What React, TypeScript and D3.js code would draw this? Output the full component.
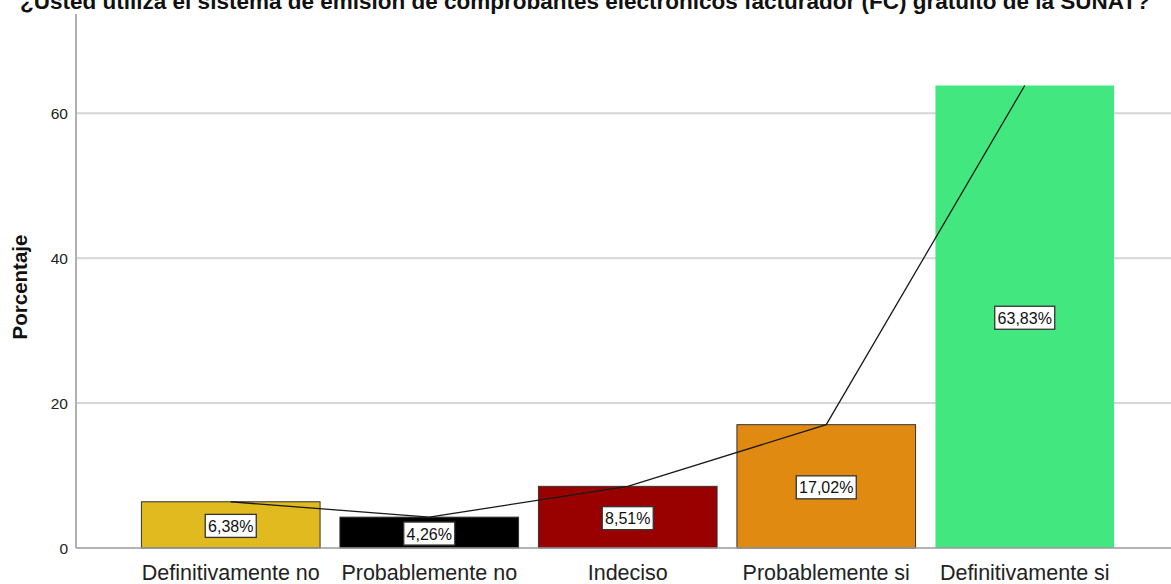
import React from "react";
import * as d3 from "d3";

// Survey responses and their percentages
const categories = [
  "Definitivamente no",
  "Probablemente no",
  "Indeciso",
  "Probablemente si",
  "Definitivamente si",
];
const percentages = [6.38, 4.26, 8.51, 17.02, 63.83];
const barColors = ["#e0ba1e", "#000000", "#990000", "#e08a12", "#42e87f"];
const yTicks = [0, 20, 40, 60];
const yMax = 73.7;

const title =
  "¿Usted utiliza el sistema de emisión de comprobantes electrónicos facturador (FC) gratuito de la SUNAT?";

const W = 1171;
const H = 584;
const plot = { left: 76, right: 1171, top: 14, bottom: 548 };
const FONT = "Liberation Sans, Arial, sans-serif";

const fmt = (v: number) => v.toFixed(2).replace(".", ",") + "%";

export default function App() {
  const x = d3
    .scaleBand<string>()
    .domain(categories)
    .range([131.5, 1124])
    .paddingInner(0.1)
    .paddingOuter(0.05);
  const y = d3.scaleLinear().domain([0, yMax]).range([plot.bottom, plot.top]);

  const linePts: [number, number][] = categories.map((c, i) => [
    (x(c) as number) + x.bandwidth() / 2,
    y(percentages[i]),
  ]);
  const line = d3.line()(linePts) as string;

  return (
    <div style={{ position: "fixed", left: 0, top: 0 }}>
      <svg width={W} height={H} style={{ display: "block", background: "#fff" }}>
        {/* title, running past the top edge */}
        <text
          x={585}
          y={9}
          textAnchor="middle"
          fontFamily={FONT}
          fontWeight="bold"
          fontSize={22.5}
          fill="#111"
        >
          {title}
        </text>

        {/* grid lines */}
        {yTicks
          .filter((t) => t > 0)
          .map((t) => (
            <line
              key={t}
              x1={plot.left}
              x2={plot.right}
              y1={y(t)}
              y2={y(t)}
              stroke="#d6d6d6"
              strokeWidth={2}
            />
          ))}

        {/* bars */}
        {categories.map((c, i) => (
          <rect
            key={c}
            x={x(c)}
            y={y(percentages[i])}
            width={x.bandwidth()}
            height={plot.bottom - y(percentages[i])}
            fill={barColors[i]}
            stroke={i < 4 ? "#333" : "none"}
            strokeWidth={1}
          />
        ))}

        {/* axes */}
        <line
          x1={plot.left}
          x2={plot.left}
          y1={plot.top}
          y2={plot.bottom}
          stroke="#b0b0b0"
          strokeWidth={2}
        />
        <line
          x1={plot.left}
          x2={plot.right}
          y1={plot.bottom}
          y2={plot.bottom}
          stroke="#9a9a9a"
          strokeWidth={1.5}
        />

        {/* line through bar tops */}
        <path d={line} fill="none" stroke="#1a1a1a" strokeWidth={1.3} />

        {/* value labels */}
        {categories.map((c, i) => {
          const cx = (x(c) as number) + x.bandwidth() / 2;
          const cy = (y(percentages[i]) + plot.bottom) / 2 + 1;
          const label = fmt(percentages[i]);
          const bw = label.length * 9 + 6;
          return (
            <g key={c}>
              <rect
                x={cx - bw / 2}
                y={cy - 11.5}
                width={bw}
                height={23}
                fill="#fff"
                stroke="#333"
                strokeWidth={1.3}
              />
              <text
                x={cx}
                y={cy + 6}
                textAnchor="middle"
                fontFamily={FONT}
                fontSize={16}
                fill="#111"
              >
                {label}
              </text>
            </g>
          );
        })}

        {/* y tick labels */}
        {yTicks.map((t) => (
          <text
            key={t}
            x={68}
            y={y(t) + 5.5}
            textAnchor="end"
            fontFamily={FONT}
            fontSize={15.5}
            fill="#222"
          >
            {t}
          </text>
        ))}

        {/* y axis title */}
        <text
          transform="translate(27,287) rotate(-90)"
          textAnchor="middle"
          fontFamily={FONT}
          fontWeight="bold"
          fontSize={20.5}
          fill="#111"
        >
          Porcentaje
        </text>

        {/* category labels */}
        {categories.map((c) => (
          <text
            key={c}
            x={(x(c) as number) + x.bandwidth() / 2}
            y={580}
            textAnchor="middle"
            fontFamily={FONT}
            fontSize={21.5}
            fill="#222"
          >
            {c}
          </text>
        ))}
      </svg>
    </div>
  );
}
